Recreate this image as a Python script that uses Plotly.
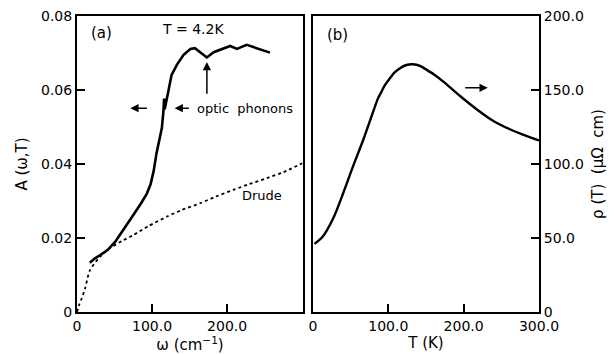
import plotly.graph_objects as go

# ---- data ----
omega_meas = [17, 24, 31, 41, 51, 63, 75, 86, 93, 98, 102, 106, 110, 113, 115, 116, 116.8, 118, 122, 126, 133, 142, 151, 157, 164, 173, 182, 193, 204, 213, 226, 257]
A_meas = [0.0133, 0.0145, 0.0154, 0.0168, 0.0190, 0.0225, 0.0262, 0.0296, 0.0320, 0.0345, 0.0380, 0.0430, 0.0468, 0.0497, 0.0540, 0.0577, 0.0548, 0.0562, 0.0600, 0.0641, 0.0668, 0.0695, 0.0711, 0.0713, 0.0703, 0.0688, 0.0702, 0.0711, 0.0719, 0.0711, 0.0722, 0.0701]

omega_drude = [0, 3, 6, 11, 17, 30, 44, 60, 75, 95, 120, 140, 164, 185, 208, 230, 253, 275, 300]
A_drude = [0, 0.0020, 0.0035, 0.0065, 0.0112, 0.0148, 0.0173, 0.0192, 0.0208, 0.0232, 0.0258, 0.0276, 0.0294, 0.0312, 0.0330, 0.0346, 0.0362, 0.0378, 0.0402]

T_vals = [2, 13, 27, 40, 53, 67, 80, 86, 91, 95, 102, 108, 115, 124, 133, 142, 151, 162, 173, 196, 218, 240, 262, 284, 300]
rho_vals = [46, 51, 63.5, 80.2, 98.2, 116.7, 135.5, 144.0, 148.9, 153.0, 157.9, 161.7, 164.6, 166.9, 167.4, 166.3, 163.6, 160.0, 155.7, 145.6, 136.7, 128.9, 123.3, 118.8, 115.9]

xa_ticks = [0, 100, 200]
xa_labels = ["0", "100.0", "200.0"]
ya_ticks = [0, 0.02, 0.04, 0.06, 0.08]
ya_labels = ["0", "0.02", "0.04", "0.06", "0.08"]
xb_ticks = [0, 100, 200, 300]
xb_labels = ["0", "100.0", "200.0", "300.0"]
yb_ticks = [0, 50, 100, 150, 200]
yb_labels = ["0", "50.0", "100.0", "150.0", "200.0"]

FONT = "DejaVu Sans"
W, H = 616, 354

fig = go.Figure()
fig.add_trace(go.Scatter(x=omega_drude, y=A_drude, mode="lines", xaxis="x", yaxis="y",
                         line=dict(color="black", width=1.8, dash="dot", shape="spline", smoothing=0.6),
                         showlegend=False))
fig.add_trace(go.Scatter(x=omega_meas, y=A_meas, mode="lines", xaxis="x", yaxis="y",
                         line=dict(color="black", width=2.6), showlegend=False))
fig.add_trace(go.Scatter(x=T_vals, y=rho_vals, mode="lines", xaxis="x2", yaxis="y2",
                         line=dict(color="black", width=2.4, shape="spline", smoothing=0.8),
                         showlegend=False))

axis_common = dict(showline=True, linewidth=2, linecolor="black", mirror=True,
                   ticks="inside", ticklen=8, tickwidth=1.5, tickcolor="black",
                   showgrid=False, zeroline=False, automargin=False,
                   tickfont=dict(family=FONT, size=14, color="black"))

fig.update_layout(
    width=W, height=H,
    margin=dict(l=0, r=0, t=16, b=42),
    paper_bgcolor="white", plot_bgcolor="white",
    font=dict(family=FONT, size=14, color="black"),
    xaxis=dict(domain=[77 / W, 303 / W], range=[0, 301], tickvals=xa_ticks, ticktext=xa_labels,
               title=dict(text="ω (cm<sup>−1</sup>)", font=dict(size=15), standoff=2), anchor="y", **axis_common),
    yaxis=dict(domain=[0, 1], range=[0, 0.08], tickvals=ya_ticks, ticktext=ya_labels,
               title=dict(text="A (ω,T)", font=dict(size=15), standoff=10), anchor="x", **axis_common),
    xaxis2=dict(domain=[313 / W, 539 / W], range=[0, 300], tickvals=xb_ticks, ticktext=xb_labels,
                title=dict(text="T (K)", font=dict(size=15), standoff=2), anchor="y2", **axis_common),
    yaxis2=dict(domain=[0, 1], range=[0, 200], tickvals=yb_ticks, ticktext=yb_labels, side="right",
                title=dict(text="ρ (T)  (μΩ  cm)", font=dict(size=15), standoff=10), anchor="x2", **axis_common),
)

ann = []
def text(x, y, s, xref, yref, xanchor="center", size=14):
    ann.append(dict(x=x, y=y, xref=xref, yref=yref, text=s, showarrow=False,
                    xanchor=xanchor, yanchor="middle", font=dict(family=FONT, size=size, color="black")))

def arrow(x0, y0, x1, y1, xref, yref):
    ann.append(dict(x=x1, y=y1, ax=x0, ay=y0, xref=xref, yref=yref, axref=xref, ayref=yref,
                    text="", showarrow=True, arrowhead=2, arrowsize=1.1, arrowwidth=1.5, arrowcolor="black"))

text(32, 0.0754, "(a)", "x", "y", size=15)
text(155, 0.0765, "T = 4.2K", "x", "y")
text(157, 0.0551, "optic  phonons", "x", "y", xanchor="left", size=13)
text(247, 0.0314, "Drude", "x", "y", size=13)
arrow(95, 0.0551, 71, 0.0551, "x", "y")
arrow(151, 0.0551, 130, 0.0551, "x", "y")
arrow(173, 0.0586, 173, 0.0676, "x", "y")
text(33, 187, "(b)", "x2", "y2", size=15)
arrow(200, 151.5, 232, 151.5, "x2", "y2")

fig.update_layout(annotations=ann)
fig.write_html("out.html")
